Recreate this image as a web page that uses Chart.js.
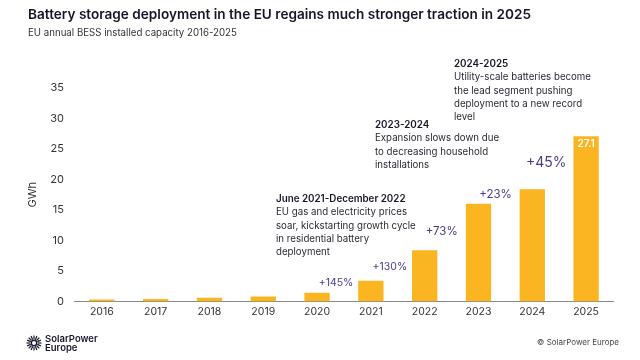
<!DOCTYPE html>
<html>
<head>
<meta charset="utf-8">
<script src="https://cdn.jsdelivr.net/npm/chart.js@4.4.1/dist/chart.umd.min.js"></script>
<style>
  body { margin: 0; background: #fff; }
  #wrap { width: 640px; height: 360px; position: relative; }
</style>
</head>
<body>
<div id="wrap"><canvas id="mycanvas"></canvas></div>
<script>
var years = ['2016', '2017', '2018', '2019', '2020', '2021', '2022', '2023', '2024', '2025'];
var capacity = [0.3, 0.4, 0.6, 0.8, 1.4, 3.4, 8.4, 16.0, 18.4, 27.1];
var growth = ['+145%', '+130%', '+73%', '+23%', '+45%'];   // shown over 2020..2024
var yTicks = [0, 5, 10, 15, 20, 25, 30, 35];

var title = 'Battery storage deployment in the EU regains much stronger traction in 2025';
var subtitle = 'EU annual BESS installed capacity 2016-2025';
var notes = [
	{ head: 'June 2021-December 2022', lines: ['EU gas and electricity prices', 'soar, kickstarting growth cycle', 'in residential battery', 'deployment'] },
	{ head: '2023-2024', lines: ['Expansion slows down due', 'to decreasing household', 'installations'] },
	{ head: '2024-2025', lines: ['Utility-scale batteries become', 'the lead segment pushing', 'deployment to a new record', 'level'] }
];

var FONT = 'Inter, "Noto Sans", sans-serif';
var purple = '#4a3b8c';

var extras = {
	id: 'extras',
	afterDraw: function(chart) {
		var ctx = chart.ctx;
		var xs = chart.scales.x, ys = chart.scales.y;
		ctx.save();
		ctx.textBaseline = 'middle';

		// title + subtitle
		ctx.fillStyle = '#16162a';
		ctx.font = '600 13.6px ' + FONT;
		ctx.fillText(title, 28, 15);
		ctx.fillStyle = '#333';
		ctx.font = '9.7px ' + FONT;
		ctx.fillText(subtitle, 28, 33);

		// growth labels, between bars
		var gStyle = [
			{ size: 10.5, dy: 10, dx: 19 },
			{ size: 10.5, dy: 14, dx: 19 },
			{ size: 11.5, dy: 19, dx: 17 },
			{ size: 11.5, dy: 9, dx: 17 },
			{ size: 14, dy: 26, dx: 14 }
		];
		ctx.fillStyle = purple;
		ctx.textAlign = 'center';
		for (var i = 0; i < growth.length; i++) {
			var idx = i + 4;
			var s = gStyle[i];
			ctx.font = s.size + 'px ' + FONT;
			ctx.fillText(growth[i], xs.getPixelForValue(idx) + s.dx, ys.getPixelForValue(capacity[idx]) - s.dy);
		}

		// value label inside last bar
		var last = capacity.length - 1;
		ctx.fillStyle = '#fff';
		ctx.font = '600 10px ' + FONT;
		ctx.fillText(capacity[last].toFixed(1), xs.getPixelForValue(last), ys.getPixelForValue(capacity[last]) + 8);

		// notes
		ctx.textAlign = 'left';
		var pos = [[276, 199], [375, 125], [454, 64]];
		notes.forEach(function(n, k) {
			var x = pos[k][0], y = pos[k][1];
			ctx.fillStyle = '#16162a';
			ctx.font = '600 9.8px ' + FONT;
			ctx.fillText(n.head, x, y);
			ctx.fillStyle = '#2a2a35';
			ctx.font = '9.7px ' + FONT;
			n.lines.forEach(function(l, j) {
				ctx.fillText(l, x, y + 13.3 * (j + 1));
			});
		});

		// footer
		ctx.fillStyle = '#444';
		ctx.textAlign = 'right';
		ctx.font = '8px ' + FONT;
		ctx.fillText('\u00A9 SolarPower Europe', 619, 343);

		// logo
		var cx = 34, cy = 343;
		ctx.strokeStyle = '#16162a';
		ctx.lineWidth = 1.2;
		for (var r = 0; r < 16; r++) {
			var a = r * Math.PI / 8;
			ctx.beginPath();
			ctx.moveTo(cx + Math.cos(a) * 3.5, cy + Math.sin(a) * 3.5);
			ctx.lineTo(cx + Math.cos(a) * 7.5, cy + Math.sin(a) * 7.5);
			ctx.stroke();
		}
		ctx.beginPath();
		ctx.arc(cx, cy, 2.6, 0, Math.PI * 2);
		ctx.stroke();
		ctx.fillStyle = '#16162a';
		ctx.textAlign = 'left';
		ctx.font = '600 9.5px ' + FONT;
		ctx.fillText('SolarPower', 45, 339);
		ctx.fillText('Europe', 45, 348);
		ctx.restore();
	}
};

var chartdata = {
	labels: years,
	datasets: [{
		label: 'GWh',
		backgroundColor: '#fbb521',
		data: capacity,
		barPercentage: 0.47,
		categoryPercentage: 1
	}]
};

var ctx = document.getElementById('mycanvas');
var barGraph = new Chart(ctx, {
	type: 'bar',
	data: chartdata,
	plugins: [extras],
	options: {
		responsive: true,
		maintainAspectRatio: false,
		animation: false,
		layout: { padding: { top: 88, left: 22, right: 27, bottom: 38 } },
		plugins: { legend: { display: false }, tooltip: { enabled: false } },
		scales: {
			x: {
				grid: { display: false, drawTicks: false },
				border: { color: '#8a8a8a', width: 1 },
				ticks: { color: '#333', font: { family: FONT, size: 10.5 }, padding: 4 },
			},
			y: {
				min: 0,
				max: 35,
				afterBuildTicks: function(scale) {
					scale.ticks = yTicks.map(function(v) { return { value: v }; });
				},
				grid: { display: false, drawTicks: false },
				border: { display: false },
				ticks: { color: '#333', font: { family: FONT, size: 11 }, padding: 11 },
				title: { display: true, text: 'GWh', color: '#333', font: { family: FONT, size: 11 }, padding: { top: 4, bottom: 0 } }
			}
		}
	}
});
</script>
</body>
</html>
